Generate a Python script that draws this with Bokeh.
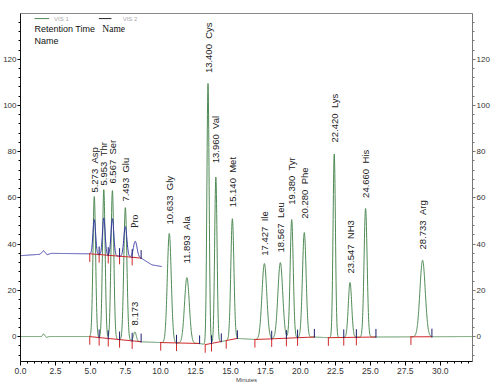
import numpy as np
from bokeh.plotting import figure
from bokeh.models import LinearAxis, FixedTicker, Range1d, NumeralTickFormatter, Label
from bokeh.core.properties import value
from bokeh.embed import file_html
from bokeh.resources import INLINE

# ---------------- data ----------------
peak_names = ["Asp", "Thr", "Ser", "Glu", "", "Gly", "Ala", "Cys", "Val", "Met",
              "Ile", "Leu", "Tyr", "Phe", "Lys", "NH3", "His", "Arg"]
peak_times = [5.273, 5.953, 6.567, 7.493, 8.173, 10.633, 11.893, 13.400, 13.960, 15.140,
              17.427, 18.567, 19.380, 20.280, 22.420, 23.547, 24.660, 28.733]
# apex values (absolute, on the VIS 1 scale)
peak_heights = [60.6, 63.6, 63.2, 55.8, 2.0, 44.6, 25.5, 109.5, 69.0, 51.0,
                31.6, 32.0, 50.6, 45.0, 79.0, 23.4, 55.4, 33.0]
peak_widths = [0.095, 0.095, 0.10, 0.11, 0.10, 0.14, 0.17, 0.08, 0.085, 0.11,
               0.17, 0.17, 0.11, 0.13, 0.085, 0.12, 0.11, 0.19]
peak_starts = [4.95, 5.62, 6.27, 7.08, 7.98, 10.02, 11.15, 13.20, 13.65, 14.70,
               16.75, 17.95, 19.00, 19.80, 22.00, 23.10, 24.00, 27.90]
peak_ends = [5.62, 6.27, 7.08, 7.98, 8.62, 11.15, 12.80, 13.65, 14.35, 15.50,
             17.95, 19.00, 19.80, 21.00, 23.10, 24.00, 25.40, 29.40]

# baseline of VIS 1 (green trace)
green_base_t = [0.0, 1.5, 1.65, 1.85, 2.05, 4.9, 8.7, 10.0, 12.8, 13.2, 15.5, 16.8, 21.0, 22.0, 25.4, 32.3]
green_base_v = [0.0, 0.0, 1.2, -0.4, 0.0, 0.0, -2.3, -2.6, -3.0, -3.5, -0.8, -1.3, -0.2, -0.5, -0.2, 0.0]

# VIS 2 (blue trace): peak heights above its own baseline
blue_times = [5.273, 5.953, 6.567, 7.493, 8.200]
blue_heights = [15.0, 16.0, 16.0, 13.0, 7.0]
blue_widths = [0.095, 0.095, 0.10, 0.11, 0.13]
blue_starts = [4.95, 5.62, 6.27, 7.08, 7.98]
blue_ends = [5.62, 6.27, 7.08, 7.98, 8.62]
blue_base_t = [0.0, 1.4, 1.65, 1.9, 2.2, 5.0, 7.0, 8.6, 9.0, 9.4, 10.1]
blue_base_v = [35.0, 35.6, 37.2, 35.4, 36.0, 35.8, 34.8, 34.0, 32.5, 31.0, 30.3]

x_ticks = [0.0, 2.5, 5.0, 7.5, 10.0, 12.5, 15.0, 17.5, 20.0, 22.5, 25.0, 27.5, 30.0]
y_ticks = [0, 20, 40, 60, 80, 100, 120]

# label placement (layout, not data)
label_base = [62.3, 65.4, 66.2, 58.4, 4.8, 48.5, 31.6, 114.0, 75.0, 56.0,
              35.0, 36.4, 57.0, 51.0, 84.0, 27.3, 60.0, 37.7]

# ---------------- build traces ----------------
tg = np.arange(0.0, 32.3001, 0.01)
green = np.interp(tg, green_base_t, green_base_v)
for t0, h, s in zip(peak_times, peak_heights, peak_widths):
    amp = h - np.interp(t0, green_base_t, green_base_v)
    green = green + amp * np.exp(-0.5 * ((tg - t0) / s) ** 2)

tb = np.arange(0.0, 10.1001, 0.01)
blue = np.interp(tb, blue_base_t, blue_base_v)
for t0, h, s in zip(blue_times, blue_heights, blue_widths):
    blue = blue + h * np.exp(-0.5 * ((tb - t0) / s) ** 2)

GREEN = "#4f8a55"
BLUE = "#3838a8"
RED = "#d02828"
DARK = "#1c1c70"
SANS = "Liberation Sans"
SERIF = "Liberation Serif"

p = figure(width=499, height=391, x_range=Range1d(0, 32.3), y_range=Range1d(-10.8, 139.8),
           output_backend="svg", toolbar_location=None,
           min_border_left=17, min_border_right=27, min_border_top=13, min_border_bottom=30)
p.xgrid.visible = False
p.ygrid.visible = False
p.outline_line_color = "#888888"
p.background_fill_color = "white"

# VIS 1 trace
p.line(tg, green, line_color=GREEN, line_width=1)

# VIS 1 baseline / integration events
gs = np.interp(peak_starts, green_base_t, green_base_v)
ge = np.interp(peak_ends, green_base_t, green_base_v)
p.segment(x0=peak_starts, y0=gs, x1=peak_ends, y1=ge, line_color=RED, line_width=1)
p.segment(x0=peak_starts, y0=gs - 3.5, x1=peak_starts, y1=gs + 0.3, line_color=RED, line_width=1)
p.segment(x0=peak_ends, y0=ge - 0.3, x1=peak_ends, y1=ge + 3.5, line_color=DARK, line_width=1)

# VIS 2 trace and its events
p.line(tb, blue, line_color=BLUE, line_width=1)
bs = np.interp(blue_starts, blue_base_t, blue_base_v)
be = np.interp(blue_ends, blue_base_t, blue_base_v)
p.segment(x0=blue_starts, y0=bs, x1=blue_ends, y1=be, line_color=RED, line_width=1)
p.segment(x0=blue_starts, y0=bs - 3.5, x1=blue_starts, y1=bs + 0.3, line_color=RED, line_width=1)
p.segment(x0=blue_ends, y0=be - 0.3, x1=blue_ends, y1=be + 3.5, line_color=DARK, line_width=1)

# peak labels (vertical)
label_text = [("%.3f \u00a0%s" % (t, n)) if n else ("%.3f" % t) for t, n in zip(peak_times, peak_names)]
p.text(x=peak_times, y=label_base, text=label_text, angle=np.pi / 2,
       text_align="left", text_baseline="middle", text_color="#222222",
       text_font=value(SANS), text_font_size="9.5px")
p.text(x=[blue_times[4]], y=[47.0], text=["Pro"], angle=np.pi / 2,
       text_align="left", text_baseline="middle", text_color="#222222",
       text_font=value(SERIF), text_font_size="9.5px")

# header / legend
p.line([1.0, 2.05], [137.6, 137.6], line_color=GREEN, line_width=1)
p.line([5.6, 6.5], [137.6, 137.6], line_color="#222222", line_width=1)
p.add_layout(Label(x=2.4, y=137.6, text="VIS 1", text_font=SANS, text_font_size="6px",
                   text_color="#aaaaaa", text_baseline="middle"))
p.add_layout(Label(x=7.3, y=137.6, text="VIS 2", text_font=SANS, text_font_size="6px",
                   text_color="#aaaaaa", text_baseline="middle"))
p.add_layout(Label(x=1.0, y=132.9, text="Retention Time", text_font=SANS,
                   text_font_size="9px", text_color="#111111", text_baseline="middle"))
p.add_layout(Label(x=1.0, y=127.7, text="Name", text_font=SANS,
                   text_font_size="9px", text_color="#111111", text_baseline="middle"))
p.add_layout(Label(x=5.85, y=132.9, text="Name", text_font=SERIF,
                   text_font_size="9.5px", text_color="#111111", text_baseline="middle"))

# axes
xax = p.xaxis[0]
xax.ticker = FixedTicker(ticks=x_ticks, minor_ticks=[i * 0.5 for i in range(65)])
xax.formatter = NumeralTickFormatter(format="0.0")
xax.axis_label = "Minutes"
xax.axis_label_text_font = SANS
xax.axis_label_text_font_size = "6px"
xax.axis_label_text_font_style = "normal"
xax.axis_label_standoff = 0
xax.major_label_text_font = SANS
xax.major_label_text_font_size = "8.5px"
xax.major_label_text_color = "#333333"
xax.major_label_standoff = 2
xax.major_tick_in = 0
xax.major_tick_out = 4
xax.minor_tick_in = 0
xax.minor_tick_out = 2
xax.axis_line_color = "#111111"

yax = p.yaxis[0]
yax.ticker = FixedTicker(ticks=y_ticks, minor_ticks=list(range(-8, 140, 4)))
yax.major_label_text_font = SANS
yax.major_label_text_font_size = "8px"
yax.major_label_text_color = "#333333"
yax.major_label_standoff = 1
yax.major_tick_in = 0
yax.major_tick_out = 3
yax.minor_tick_in = 0
yax.minor_tick_out = 2
yax.axis_line_color = "#111111"

rax = LinearAxis(ticker=FixedTicker(ticks=y_ticks, minor_ticks=list(range(-8, 140, 4))))
rax.major_label_text_font = SANS
rax.major_label_text_font_size = "8px"
rax.major_label_text_color = "#333333"
rax.major_label_standoff = 1
rax.major_tick_in = 0
rax.major_tick_out = 3
rax.minor_tick_in = 0
rax.minor_tick_out = 2
rax.axis_line_color = "#777777"
rax.major_tick_line_color = "#777777"
rax.minor_tick_line_color = "#777777"
p.add_layout(rax, "right")

open("out.html", "w").write(file_html(p, INLINE))
